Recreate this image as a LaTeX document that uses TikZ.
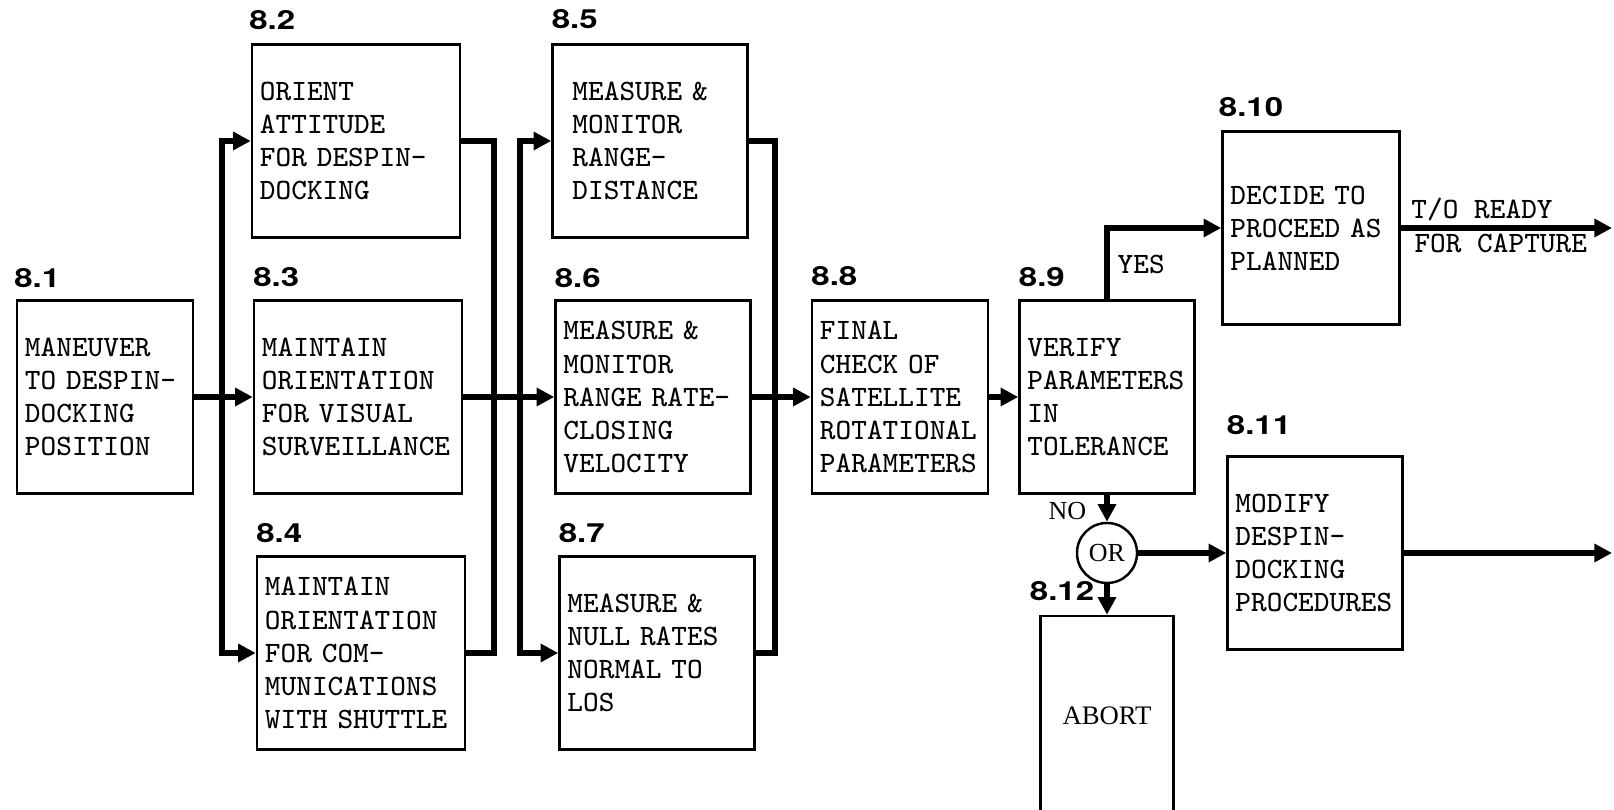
\documentclass[tikz,border=0pt]{standalone}
\usepackage{fontspec}
\newfontfamily\tagfont{TeX Gyre Heros}[FakeStretch=1.25]
\newfontfamily\romfont{Liberation Serif}
\usepackage{tikz}
\usetikzlibrary{arrows.meta, positioning}

\begin{document}
\begin{tikzpicture}[x=0.01cm, y=-0.01cm,
          box/.style={rectangle, draw, line width=0.7pt, minimum height=1.93cm,
                      inner xsep=0.08cm, align=left,
                      font=\ttfamily\fontsize{8.4}{9.4}\selectfont},
          tag/.style={inner sep=0pt, font=\tagfont\bfseries\fontsize{7.5}{8}\selectfont},
          note/.style={inner sep=0pt, font=\ttfamily\fontsize{8.4}{9.4}\selectfont},
          serif/.style={inner sep=0pt, font=\romfont\fontsize{7.4}{8}\selectfont},
          gate/.style={circle, draw, line width=0.7pt, minimum size=0.6cm, inner sep=0pt,
                       font=\romfont\fontsize{7.4}{8}\selectfont},
          wire/.style={line width=1.5pt},
          arr/.style={wire, -{Triangle[length=5pt, width=5pt]}}]
  \useasboundingbox (0,0) rectangle (1614,810);

  \node[box, text width=1.60cm] (maneuver) at (105,397) {MANEUVER\\TO DESPIN-\\DOCKING\\POSITION};
  \node[box, text width=1.92cm] (orient)   at (356,141) {ORIENT\\ATTITUDE\\FOR DESPIN-\\DOCKING};
  \node[box, text width=1.92cm] (visual)   at (358,397) {MAINTAIN\\ORIENTATION\\FOR VISUAL\\SURVEILLANCE};
  \node[box, text width=1.92cm] (comm)     at (361,653) {MAINTAIN\\ORIENTATION\\FOR COM-\\MUNICATIONS\\WITH SHUTTLE};
  \node[box, text width=1.55cm, inner xsep=0.2cm] (range) at (650,141) {MEASURE \&\\MONITOR\\RANGE-\\DISTANCE};
  \node[box, text width=1.79cm] (rate)     at (653,397) {MEASURE \&\\MONITOR\\RANGE RATE-\\CLOSING\\VELOCITY};
  \node[box, text width=1.79cm] (nullrate) at (657,653) {MEASURE \&\\NULL RATES\\NORMAL TO\\LOS};
  \node[box, text width=1.60cm] (check)    at (900,397) {FINAL\\CHECK OF\\SATELLITE\\ROTATIONAL\\PARAMETERS};
  \node[box, text width=1.59cm] (verify)   at (1107,397) {VERIFY\\PARAMETERS\\IN\\TOLERANCE};
  \node[box, text width=1.61cm] (proceed)  at (1311,228) {DECIDE TO\\PROCEED AS\\PLANNED};
  \node[gate] (orgate) at (1107,553) {OR};
  \node[box, text width=1.59cm] (modify)   at (1315,553) {MODIFY\\DESPIN-\\DOCKING\\PROCEDURES};
  \node[box, minimum width=1.33cm, minimum height=2.0cm, align=center,
        font=\romfont\fontsize{7.6}{8}\selectfont] (abort) at (1107,716) {ABORT};

  \node[tag, above right=0.11cm and -0.02cm of maneuver.north west] (t81) {8.1};
  \node[tag, above right=0.13cm and -0.02cm of orient.north west] (t82) {8.2};
  \node[tag, above right=0.12cm and 0cm of visual.north west] (t83) {8.3};
  \node[tag, above right=0.12cm and 0cm of comm.north west] (t84) {8.4};
  \node[tag, above right=0.14cm and 0cm of range.north west] (t85) {8.5};
  \node[tag, above right=0.11cm and 0cm of rate.north west] (t86) {8.6};
  \node[tag, above right=0.12cm and 0cm of nullrate.north west] (t87) {8.7};
  \node[tag, above right=0.13cm and 0cm of check.north west] (t88) {8.8};
  \node[tag, above right=0.12cm and 0cm of verify.north west] (t89) {8.9};
  \node[tag, above right=0.13cm and -0.03cm of proceed.north west] (t810) {8.10};
  \node[tag, above right=0.2cm and 0cm of modify.north west] (t811) {8.11};
  \node[tag, above right=0.13cm and -0.1cm of abort.north west] (t812) {8.12};

  \coordinate (fanA)  at (222,397);
  \coordinate (joinA) at (494,397);
  \coordinate (fanB)  at (520,397);
  \coordinate (joinB) at (775,397);
  \coordinate (outA)  at (1612,228);
  \coordinate (outB)  at (1612,553);

  \draw[arr] (maneuver) -- (visual);
  \draw[arr] (fanA) |- (orient);
  \draw[arr] (fanA) |- (comm);
  \draw[wire] (orient) -| (joinA);
  \draw[wire] (comm) -| (joinA);
  \draw[arr] (visual) -- (rate);
  \draw[arr] (fanB) |- (range);
  \draw[arr] (fanB) |- (nullrate);
  \draw[wire] (range) -| (joinB);
  \draw[wire] (nullrate) -| (joinB);
  \draw[arr] (rate) -- (check);
  \draw[arr] (check) -- (verify);
  \draw[arr] (verify) |- (proceed);
  \draw[arr] (verify) -- (orgate);
  \draw[arr] (orgate) -- (abort);
  \draw[arr] (orgate) -- (modify);
  \draw[arr] (proceed) -- (outA);
  \draw[arr] (modify) -- (outB);

  \node[note, above right=0.25cm and 0.1cm of verify.north] (yes) {YES};
  \node[serif, above left=0.01cm and 0.2cm of orgate.north] (no) {NO};
  \node[note, anchor=base west] (ready) at ([xshift=0.1cm, yshift=0.09cm]proceed.east) {T/O READY};
  \node[note, anchor=base west] (capture) at ([xshift=0.13cm, yshift=-0.24cm]proceed.east) {FOR CAPTURE};
\end{tikzpicture}
\end{document}
